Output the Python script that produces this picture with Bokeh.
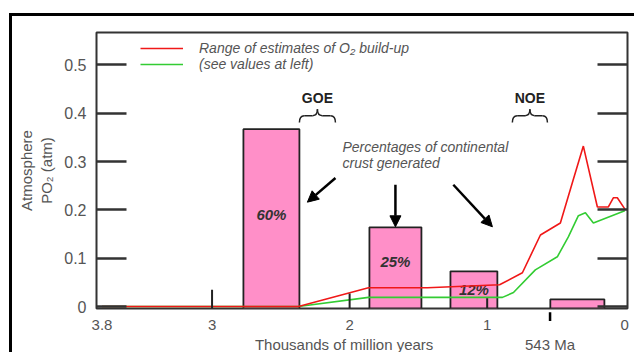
from bokeh.plotting import figure
from bokeh.models import (Range1d, LinearAxis, FixedTicker, Legend, LegendItem,
                          Label, Arrow, NormalHead, TeeHead, ColumnDataSource)
from bokeh.core.properties import value
from bokeh.embed import file_html
from bokeh.resources import INLINE

# ---------------- data ----------------
bar_left = [2.772, 1.856, 1.267, 0.541]
bar_right = [2.365, 1.478, 0.926, 0.148]
bar_top = [0.367, 0.164, 0.073, 0.015]
bar_labels = ["60%", "25%", "12%"]
bar_label_y = [0.19, 0.093, 0.035]

red_x = [3.8, 2.372, 1.863, 1.435, 0.91, 0.744, 0.613, 0.468, 0.381, 0.301, 0.199, 0.119, 0.083, 0.054, 0.0]
red_y = [0.0, 0.0, 0.039, 0.039, 0.045, 0.070, 0.148, 0.173, 0.256, 0.332, 0.206, 0.206, 0.225, 0.225, 0.202]
green_x = [3.8, 2.372, 1.863, 0.889, 0.809, 0.650, 0.490, 0.410, 0.337, 0.286, 0.228, 0.0]
green_y = [0.0, 0.0, 0.019, 0.019, 0.029, 0.076, 0.103, 0.144, 0.188, 0.194, 0.173, 0.198]

x_ticks = [3.8, 3, 2, 1, 0]
x_tick_labels = ["3.8", "3", "2", "1", "0"]
inner_tick_x = [3, 2, 1]
inner_tick_top = [0.035, 0.027, 0.017]
y_ticks = [0, 0.1, 0.2, 0.3, 0.4, 0.5]
y_tick_labels = ["0", "0.1", "0.2", "0.3", "0.4", "0.5"]

x_title = "Thousands of million years"
x_title_at = 2.04

event_names = ["GOE", "NOE"]
event_start = [2.365, 0.817]
event_end = [2.103, 0.562]
event_brace_y = 0.395
event_text_y = 0.431

cambrian_x = 0.543          # 543 Ma marker
cambrian_label = "543 Ma"
arrow_x0 = [2.103, 1.667, 1.246]
arrow_y0 = [0.266, 0.252, 0.252]
arrow_x1 = [2.307, 1.667, 0.962]
arrow_y1 = [0.216, 0.165, 0.165]

FONT = "Liberation Sans"
GRAY = "#555555"
DARK = "#333333"

p = figure(width=625, height=339, x_range=Range1d(3.84, -0.02), y_range=Range1d(-0.004, 0.567),
           output_backend="svg", toolbar_location=None,
           min_border_left=84, min_border_top=16, min_border_right=10, min_border_bottom=47)
# outer rule of the original figure panel (top and left edges)
p.styles = {"border-top": "3px solid black", "border-left": "3px solid black",
            "margin-top": "13px", "margin-left": "9px"}
p.grid.visible = False
p.outline_line_color = DARK
p.outline_line_width = 2
p.background_fill_color = "white"

# bars
p.quad(left=bar_left, right=bar_right, bottom=-0.004, top=bar_top,
       fill_color="#ff8fc8", line_color="#222222", line_width=1.8)
bar_cx = [(a + b) / 2 for a, b in zip(bar_left, bar_right)]
p.text(x=bar_cx[:3], y=bar_label_y, text=bar_labels, text_align="center", text_baseline="middle",
       text_font=value(FONT), text_font_size=value("15px"), text_font_style="bold italic",
       text_color=DARK)

# lines (green drawn first so red lies on top)
r_green = p.line(green_x, green_y, line_color="#33cc33", line_width=1.6)
r_red = p.line(red_x, red_y, line_color="#f01818", line_width=1.6)

# inner bottom tick marks (of differing lengths, as in the original)
p.segment(x0=inner_tick_x, y0=[-0.004] * 3, x1=inner_tick_x, y1=inner_tick_top,
          line_color="#222222", line_width=2)

# braces
dx, dy_h, dy_t = 0.035, 0.014, 0.013
for xs, xe, name in zip(event_start, event_end, event_names):
    xm = (xs + xe) / 2
    y = event_brace_y
    p.quadratic(x0=[xs, xm + dx, xm, xe + dx], y0=[y - dy_h, y, y + dy_t, y],
                x1=[xs - dx, xm, xm - dx, xe], y1=[y, y + dy_t, y, y - dy_h],
                cx=[xs, xm, xm, xe], cy=[y, y, y, y], line_color="#222222", line_width=1.5)
    p.segment(x0=[xs - dx, xm - dx], y0=[y, y], x1=[xm + dx, xe + dx], y1=[y, y],
              line_color="#222222", line_width=1.5)
    p.add_layout(Label(x=xm, y=event_text_y, text=name, text_align="center", text_baseline="middle",
                       text_font=FONT, text_font_size="14px", text_font_style="bold", text_color="#222222"))

# texts (added before the arrows)
for t, yy in [("Percentages of continental", 0.330), ("crust generated", 0.297)]:
    p.add_layout(Label(x=2.052, y=yy, text=t, text_align="left", text_baseline="middle",
                       text_font=FONT, text_font_size="14px", text_font_style="italic", text_color=GRAY))

# arrows
asrc = ColumnDataSource(dict(x0=arrow_x0, y0=arrow_y0, x1=arrow_x1, y1=arrow_y1))
p.add_layout(Arrow(x_start="x0", y_start="y0", x_end="x1", y_end="y1", source=asrc,
                   line_width=2.5, line_color="black",
                   end=NormalHead(size=11, fill_color="black", line_color="black")))
# 543 Ma pointer below the axis: an upward head plus a vertical stem
p.add_layout(Arrow(x_start=cambrian_x, y_start=-0.03, x_end=cambrian_x, y_end=-0.012,
                   line_width=2.5, line_color="black",
                   end=NormalHead(size=11, fill_color="black", line_color="black")))
p.add_layout(Arrow(x_start=cambrian_x + 0.06, y_start=-0.037, x_end=cambrian_x, y_end=-0.037,
                   line_width=2.5, line_color="black",
                   end=TeeHead(size=17, line_width=2.5, line_color="black")))

# axes
for ax in p.yaxis:
    ax.ticker = FixedTicker(ticks=y_ticks)
    ax.major_label_overrides = dict(zip(y_ticks, y_tick_labels))
ax = p.yaxis[0]
ax.axis_label = "Atmosphere\nPO\u2082 (atm)"
ax.axis_label_text_font = FONT
ax.axis_label_text_font_size = "15px"
ax.axis_label_text_font_style = "normal"
ax.axis_label_text_color = GRAY
ax.axis_label_standoff = 6

rax = LinearAxis(ticker=FixedTicker(ticks=y_ticks), major_label_text_font_size="1px",
                 major_label_text_color=None, major_label_standoff=0)
p.add_layout(rax, "right")

for a in [p.yaxis[0], rax]:
    a.major_tick_in = 30
    a.major_tick_out = 0
    a.minor_tick_line_color = None
    a.axis_line_color = None
    a.major_tick_line_width = 2.5
    a.major_tick_line_color = DARK
a = p.yaxis[0]
a.major_label_text_font = FONT
a.major_label_text_font_size = "16px"
a.major_label_text_color = GRAY
a.major_label_standoff = 10

# bottom axis: tick values on the first row; title and "543 Ma" on the second row
xa = p.xaxis[0]
xa.ticker = FixedTicker(ticks=x_ticks + [x_title_at, cambrian_x])
overrides = dict(zip(x_ticks, x_tick_labels))
overrides[x_title_at] = "\n" + x_title
overrides[cambrian_x] = "\n" + cambrian_label
xa.major_label_overrides = overrides
xa.major_tick_line_color = None
xa.minor_tick_line_color = None
xa.axis_line_color = None
xa.major_label_text_font = FONT
xa.major_label_text_font_size = "15px"
xa.major_label_text_color = GRAY
xa.major_label_standoff = 1

legend = Legend(items=[LegendItem(label="Range of estimates of O\u2082 build-up", renderers=[r_red]),
                       LegendItem(label="(see values at left)", renderers=[r_green])],
                location=(44, 236), padding=0, margin=0, spacing=0,
                glyph_width=43, glyph_height=16, label_height=16, label_standoff=16,
                border_line_color=None, background_fill_alpha=0,
                label_text_font=FONT, label_text_font_size="14px", label_text_font_style="italic",
                label_text_color=GRAY)
p.add_layout(legend)

open("out.html", "w").write(file_html(p, INLINE))
